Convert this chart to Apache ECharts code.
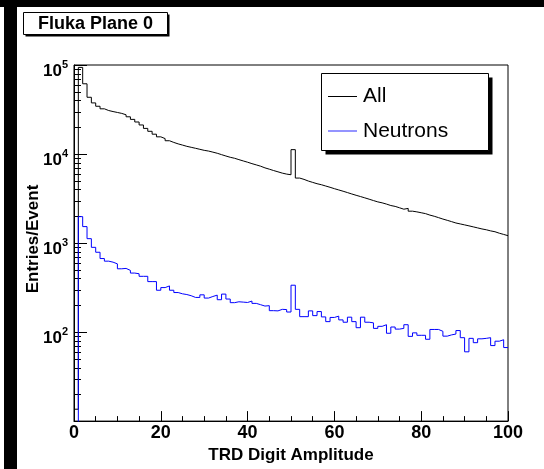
<!DOCTYPE html>
<html>
<head>
<meta charset="utf-8">
<script src="https://cdn.jsdelivr.net/npm/echarts@6/dist/echarts.min.js"></script>
<style>
  html, body { margin: 0; padding: 0; background: #fff; }
  #chart { width: 544px; height: 469px; }
</style>
</head>
<body>
<div id="chart"></div>
<script>
// Histogram binning: 100 bins of width 1 starting at 0
const binLow = 0;
const binWidth = 1;

// Entries per event, all particles (bins 0..99)
const allEntries = [
  13.6, 94000, 61500, 43400, 37500, 34400, 32200, 30800, 30000, 29300,
  28600, 27600, 26200, 24500, 22900, 21200, 19400, 18000, 16700, 15600,
  14900, 14100, 13500, 13000, 12600, 12200, 11900, 11600, 11300, 11000,
  10800, 10500, 10200, 9840, 9500, 9190, 8960, 8650, 8360, 8090,
  7800, 7550, 7300, 6990, 6760, 6520, 6310, 6100, 5950, 5850,
  11200, 5370, 5190, 4970, 4800, 4640, 4520, 4370, 4230, 4080,
  3950, 3820, 3690, 3560, 3440, 3330, 3220, 3110, 3000, 2900,
  2830, 2740, 2640, 2580, 2490, 2400, 2450, 2280, 2240, 2190,
  2140, 2060, 2000, 1930, 1860, 1800, 1740, 1680, 1640, 1600,
  1560, 1520, 1480, 1440, 1410, 1370, 1340, 1290, 1250, 1210
];

// Entries per event, neutrons only (bins 0..99)
const neutronEntries = [
  3, 1980, 1530, 1120, 895, 788, 670, 626, 610, 584,
  514, 519, 493, 460, 452, 423, 423, 369, 369, 295,
  316, 330, 295, 278, 269, 264, 256, 245, 245, 262,
  241, 251, 260, 231, 267, 235, 214, 219, 217, 215,
  223, 210, 203, 196, 198, 174, 173, 180, 179, 168,
  336, 180, 149, 149, 173, 153, 170, 148, 131, 146,
  151, 137, 129, 147, 131, 112, 147, 129, 127, 110,
  116, 121, 97, 114, 108, 110, 121, 89.5, 98, 92,
  92, 83, 107, 107, 102, 90, 93, 95, 104, 86.5,
  60, 85, 76, 84, 85, 86.5, 70.5, 79, 82, 67
];

// Axis ranges and ticks
const xRange = [0, 100];
const xMajorStep = 20;
const xMinorPerMajor = 4;
const yRange = [10, 100000];
const yDecades = [10, 100, 1000, 10000];
const yMinorMultipliers = [2, 3, 4, 5, 6, 7, 8, 9];

const seriesNames = ['All', 'Neutrons'];
const seriesColors = ['#000000', '#0000ff'];

const FONT = '"Liberation Sans", Arial, Helvetica, sans-serif';

// Turn bin contents into step-line points (left edge of each bin, plus closing edge)
function histSteps(values) {
  const pts = values.map((v, i) => [binLow + i * binWidth, v]);
  pts.push([binLow + values.length * binWidth, values[values.length - 1]]);
  return pts;
}

// Minor tick values for the logarithmic axis (2..9 within each decade)
const yMinorTicks = [];
yDecades.forEach(d => yMinorMultipliers.forEach(m => yMinorTicks.push([xRange[0], m * d])));

const chart = echarts.init(document.getElementById('chart'), null, { renderer: 'canvas' });

const option = {
  animation: false,
  backgroundColor: '#ffffff',
  grid: {
    left: 74, right: 36, top: 65, bottom: 44,
    show: true, borderColor: '#000', borderWidth: 1, backgroundColor: 'transparent'
  },
  xAxis: {
    type: 'value',
    min: xRange[0], max: xRange[1], interval: xMajorStep,
    axisLine: { show: true, onZero: false, lineStyle: { color: '#000', width: 1 } },
    axisTick: { show: true, inside: true, length: 10, lineStyle: { color: '#000' } },
    minorTick: { show: true, splitNumber: xMinorPerMajor, length: 5, lineStyle: { color: '#000' } },
    splitLine: { show: false },
    axisLabel: {
      margin: 3, color: '#000', fontFamily: FONT, fontWeight: 'bold', fontSize: 18
    },
    name: 'TRD Digit Amplitude',
    nameLocation: 'middle',
    nameGap: 21,
    nameTextStyle: { color: '#000', fontFamily: FONT, fontWeight: 'bold', fontSize: 17 }
  },
  yAxis: {
    type: 'log', logBase: 10,
    min: yRange[0], max: yRange[1],
    axisLine: { show: true, onZero: false, lineStyle: { color: '#000', width: 1 } },
    axisTick: { show: true, inside: true, length: 13, lineStyle: { color: '#000' } },
    splitLine: { show: false },
    axisLabel: {
      margin: 6,
      showMinLabel: false,
      padding: [9, 0, 0, 0],
      formatter: v => '{b|10}{s|' + Math.round(Math.log10(v)) + '}',
      rich: {
        b: { color: '#000', fontFamily: FONT, fontWeight: 'bold', fontSize: 17, verticalAlign: 'bottom' },
        s: { color: '#000', fontFamily: FONT, fontWeight: 'bold', fontSize: 11, verticalAlign: 'top', padding: [0, 0, 10, 0] }
      }
    }
  },
  series: [
    {
      name: 'yMinorTicks',
      type: 'custom',
      silent: true,
      data: yMinorTicks,
      renderItem: (params, api) => {
        const p = api.coord([api.value(0), api.value(1)]);
        const y = Math.round(p[1]) + 0.5;
        return {
          type: 'line',
          shape: { x1: p[0], y1: y, x2: p[0] + 7, y2: y },
          style: { stroke: '#000', lineWidth: 1 }
        };
      },
      z: 3
    },
    {
      name: seriesNames[0],
      type: 'line',
      step: 'end',
      data: histSteps(allEntries),
      showSymbol: false,
      clip: true,
      lineStyle: { color: seriesColors[0], width: 1 },
      z: 4
    },
    {
      name: seriesNames[1],
      type: 'line',
      step: 'end',
      data: histSteps(neutronEntries),
      showSymbol: false,
      clip: true,
      lineStyle: { color: seriesColors[1], width: 1 },
      z: 5
    }
  ],
  graphic: [
    // dark border strips
    { type: 'rect', shape: { x: 0, y: 0, width: 544, height: 7 }, style: { fill: '#000' }, silent: true },
    { type: 'rect', shape: { x: 4, y: 0, width: 13, height: 469 }, style: { fill: '#000' }, silent: true },
    // title box with shadow
    { type: 'rect', shape: { x: 25.5, y: 14.5, width: 144, height: 22 }, style: { fill: '#000' }, silent: true },
    { type: 'rect', shape: { x: 23.5, y: 12.5, width: 144, height: 22 }, style: { fill: '#fff', stroke: '#000', lineWidth: 1 }, silent: true },
    {
      type: 'text', x: 95.5, y: 24.5, silent: true,
      style: { text: 'Fluka Plane 0', fill: '#000', font: 'bold 18px ' + FONT, align: 'center', verticalAlign: 'middle' }
    },
    // y axis title
    {
      type: 'text', x: 33.5, y: 239, rotation: Math.PI / 2, silent: true,
      style: { text: 'Entries/Event', fill: '#000', font: 'bold 17px ' + FONT, align: 'center', verticalAlign: 'middle' }
    },
    // legend box with shadow
    { type: 'rect', shape: { x: 325.5, y: 77.5, width: 167, height: 77 }, style: { fill: '#000' }, silent: true },
    { type: 'rect', shape: { x: 321.5, y: 73.5, width: 167, height: 77 }, style: { fill: '#fff', stroke: '#000', lineWidth: 1 }, silent: true },
    { type: 'line', shape: { x1: 328, y1: 96.5, x2: 357, y2: 96.5 }, style: { stroke: seriesColors[0], lineWidth: 1 }, silent: true },
    {
      type: 'text', x: 363, y: 96, silent: true,
      style: { text: seriesNames[0], fill: '#000', font: '21px ' + FONT, align: 'left', verticalAlign: 'middle' }
    },
    { type: 'line', shape: { x1: 328, y1: 131, x2: 357, y2: 131 }, style: { stroke: '#4d4dff', lineWidth: 1.2 }, silent: true },
    {
      type: 'text', x: 363, y: 131, silent: true,
      style: { text: seriesNames[1], fill: '#000', font: '21px ' + FONT, align: 'left', verticalAlign: 'middle' }
    }
  ]
};

chart.setOption(option);
</script>
</body>
</html>
